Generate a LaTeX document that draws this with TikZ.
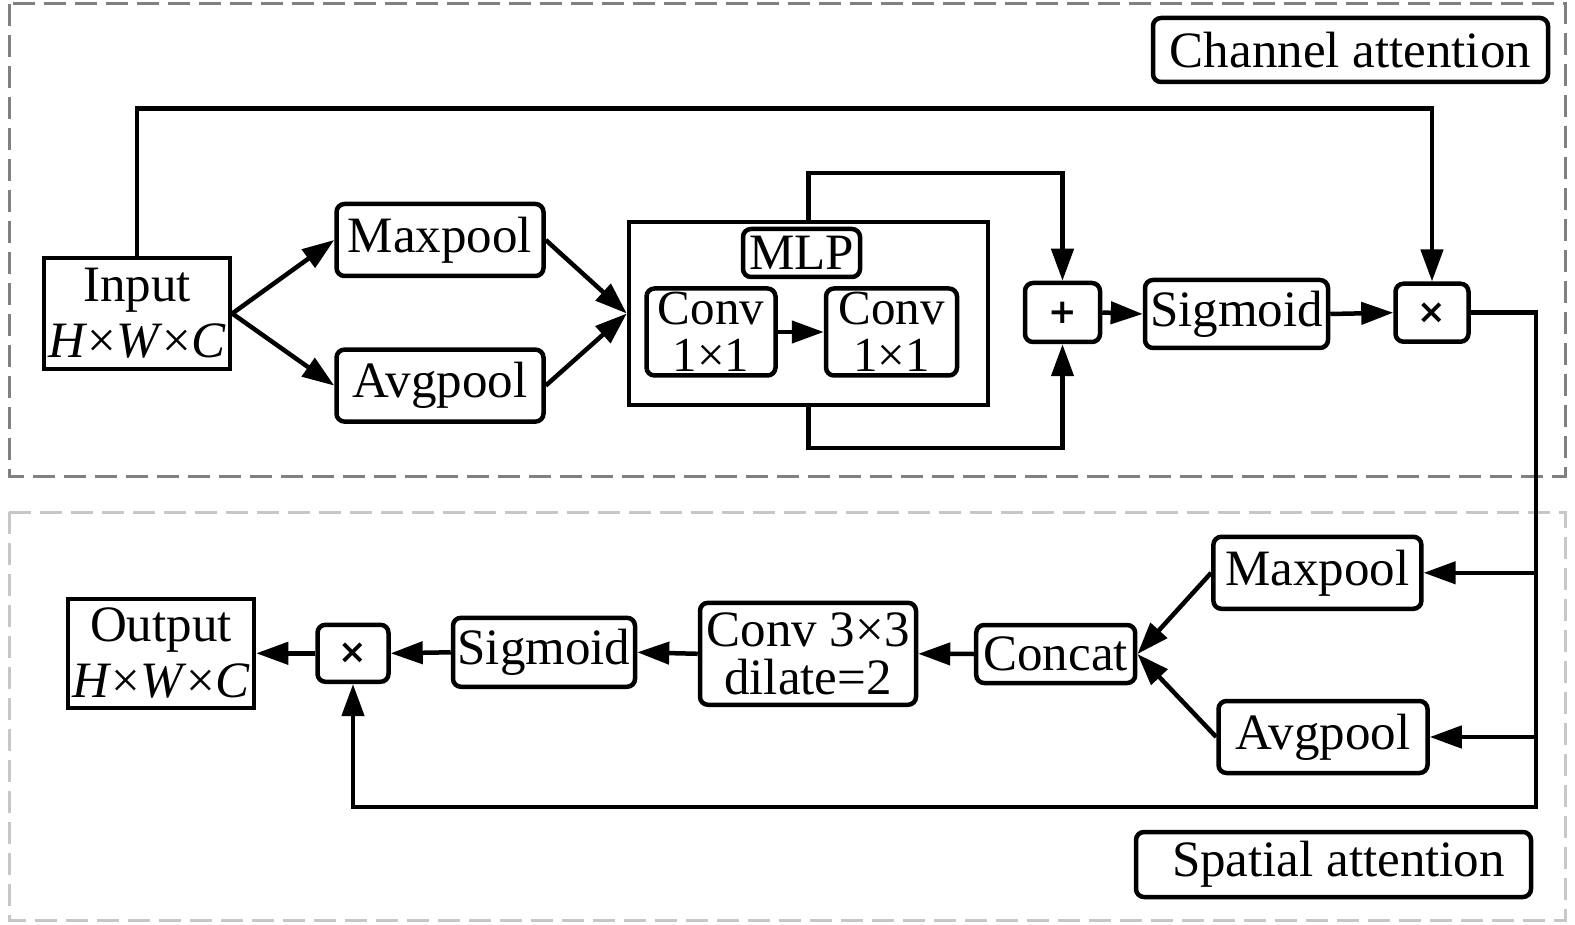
\documentclass[tikz,border=0pt]{standalone}
\usepackage{fontspec}
\setmainfont{Liberation Serif}
\newfontfamily\symfont{DejaVu Sans}
\usetikzlibrary{arrows.meta}
\begin{document}
\begin{tikzpicture}[x=1pt,y=-1pt,
  bx/.style={draw, line width=4.5pt, rounded corners=8pt, inner sep=0pt, align=center, font=\fontsize{51}{40}\selectfont},
  sbx/.style={bx, sharp corners},
  arr/.style={line width=4.5pt, -{Triangle[length=32pt,width=22pt]}},
  frameA/.style={draw=black!50, line width=3pt, dash pattern=on 22pt off 9pt},
  frameB/.style={draw=black!22, line width=3pt, dash pattern=on 22pt off 9pt},
  op/.style={bx, font=\symfont\bfseries\fontsize{34}{34}\selectfont}
]
\useasboundingbox (0,0) rectangle (1575,925);
% frames
\draw[frameA] (9,4) rectangle (1565,476);
\draw[frameB] (9,512) rectangle (1565,920);
% channel attention
\node[bx, minimum width=395pt, minimum height=64pt] (chlab) at (1350.5,50) {Channel attention};
\node[sbx, minimum width=186pt, minimum height=111pt, font=\fontsize{51}{56}\selectfont] (inp) at (137,313.5) {Input\\\textit{H}×\textit{W}×\textit{C}};
\node[bx, minimum width=207pt, minimum height=72pt] (mp1) at (440,240) {Maxpool};
\node[bx, minimum width=207pt, minimum height=72pt] (ap1) at (440,385.6) {Avgpool};
\node[sbx, minimum width=359pt, minimum height=183pt] (mlp) at (808.5,313.5) {};
\node[bx, minimum width=117pt, minimum height=48pt] (mlplab) at (801.5,253) {MLP};
\node[bx, minimum width=129pt, minimum height=87pt, font=\fontsize{49}{47}\selectfont] (c1) at (711,332) {Conv\\1×1};
\node[bx, minimum width=131pt, minimum height=87pt, font=\fontsize{49}{47}\selectfont] (c2) at (891.5,332) {Conv\\1×1};
\node[op, minimum width=75pt, minimum height=59pt] (plus) at (1062.5,312.5) {+};
\node[bx, minimum width=183pt, minimum height=68pt] (sig1) at (1236.5,314) {Sigmoid};
\node[op, minimum width=73pt, minimum height=58pt] (mul1) at (1432,312.7) {×};
% spatial attention
\node[bx, minimum width=208pt, minimum height=72pt] (mp2) at (1317.4,572.8) {Maxpool};
\node[bx, minimum width=209pt, minimum height=72pt] (ap2) at (1323,737) {Avgpool};
\node[bx, minimum width=159pt, minimum height=58pt] (cat) at (1055.7,654) {Concat};
\node[bx, minimum width=216pt, minimum height=102pt, font=\fontsize{51}{48}\selectfont] (conv3) at (808,653.8) {Conv 3×3\\dilate=2};
\node[bx, minimum width=182pt, minimum height=69pt] (sig2) at (544,652.3) {Sigmoid};
\node[op, minimum width=71pt, minimum height=57pt] (mul2) at (353,653.3) {×};
\node[sbx, minimum width=186pt, minimum height=109pt, font=\fontsize{51}{56}\selectfont] (out) at (161,653.3) {Output\\\textit{H}×\textit{W}×\textit{C}};
\node[bx, minimum width=395pt, minimum height=65pt] (splab) at (1333.5,864.5) {\hspace*{10pt}Spatial attention};
% coordinates
\coordinate (topy) at (0,108.5);
\coordinate (byt) at (0,173);
\coordinate (byb) at (0,448);
\coordinate (rx) at (1536,807);
% channel connectors
\draw[arr] (inp.east) -- (mp1.west);
\draw[arr] (inp.east) -- (ap1.west);
\draw[arr] (mp1.east) -- (mlp.west);
\draw[arr] (ap1.east) -- (mlp.west);
\draw[arr] (c1.east) -- (c2.west);
\draw[arr] (mlp.north) -- (mlp.north |- byt) -| (plus.north);
\draw[arr] (mlp.south) -- (mlp.south |- byb) -| (plus.south);
\draw[arr] (plus.east) -- (sig1.west);
\draw[arr] (sig1.east) -- (mul1.west);
\draw[arr] (inp.north) -- (inp.north |- topy) -| (mul1.north);
% spatial connectors
\draw[arr] (mul1.east) -| (rx) -| (mul2.south);
\draw[arr] (mp2.east -| rx) -- (mp2.east);
\draw[arr] (ap2.east -| rx) -- (ap2.east);
\draw[arr] (mp2.west) -- (cat.east);
\draw[arr] (ap2.west) -- (cat.east);
\draw[arr] (cat.west) -- (conv3.east);
\draw[arr] (conv3.west) -- (sig2.east);
\draw[arr] (sig2.west) -- (mul2.east);
\draw[arr] (mul2.west) -- (out.east);
\end{tikzpicture}
\end{document}
